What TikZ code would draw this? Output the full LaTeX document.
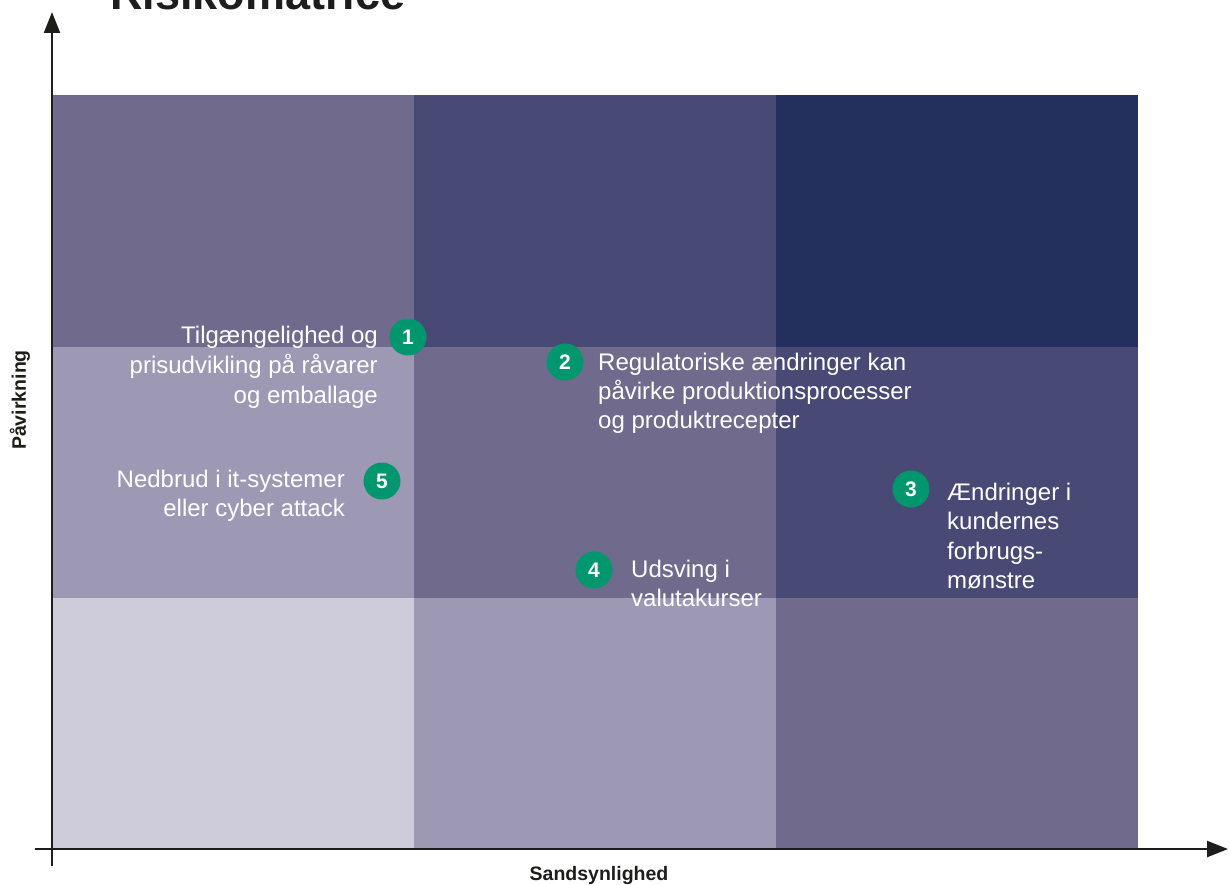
\documentclass[tikz,border=0pt]{standalone}
\usepackage{fontspec}
\setmainfont{Liberation Sans}
\usetikzlibrary{arrows.meta}
\definecolor{cA}{HTML}{CECBDB}
\definecolor{cB}{HTML}{9D98B4}
\definecolor{cC}{HTML}{706A8D}
\definecolor{cD}{HTML}{494975}
\definecolor{cE}{HTML}{232F5C}
\definecolor{mk}{HTML}{00976E}
\definecolor{ax}{HTML}{1D1D1B}
\begin{document}
\begin{tikzpicture}[x=1pt,y=-1pt,
  marker/.style={circle,fill=mk,text=white,minimum size=37pt,inner sep=0pt,font=\fontsize{21}{21}\selectfont\bfseries},
  lblL/.style={anchor=base west,inner sep=0pt,text=white,font=\fontsize{24}{29}\selectfont},
  lblR/.style={anchor=base east,inner sep=0pt,text=white,font=\fontsize{24}{29}\selectfont},
  axislbl/.style={inner sep=0pt,text=ax,font=\fontsize{19.5}{20}\selectfont\bfseries},
  axisline/.style={draw=ax,line width=2.4pt,-{Triangle[length=21pt,width=16pt]}}]
\useasboundingbox (0,0) rectangle (1230,885);
% cells
\fill[cC] (52,95) rectangle (414,347);
\fill[cD] (414,95) rectangle (776,347);
\fill[cE] (776,95) rectangle (1138,347);
\fill[cB] (52,347) rectangle (414,598);
\fill[cC] (414,347) rectangle (776,598);
\fill[cD] (776,347) rectangle (1138,598);
\fill[cA] (52,598) rectangle (414,849);
\fill[cB] (414,598) rectangle (776,849);
\fill[cC] (776,598) rectangle (1138,849);
% title
\node[anchor=base west,inner sep=0pt,text=ax,font=\fontsize{45}{50}\selectfont\bfseries] (title) at (110,10) {Risikomatrice};
% axes
\coordinate (yb) at (52,866);
\coordinate (yt) at (52,12);
\coordinate (xl) at (35,849);
\coordinate (xr) at (1228,849);
\draw[axisline] (yb) -- (yt);
\draw[axisline] (xl) -- (xr);
\node[axislbl,rotate=90] (ylab) at (20,400) {Påvirkning};
\node[axislbl,anchor=base] (xlab) at (599,880) {Sandsynlighed};
% markers
\node[marker] (m1) at (408,337) {1};
\node[marker] (m2) at (565,362) {2};
\node[marker] (m3) at (911,489) {3};
\node[marker] (m4) at (594,570) {4};
\node[marker] (m5) at (382,481) {5};
% labels
\node[lblR] (t1a) at (378,343) {Tilgængelighed og};
\node[lblR] (t1b) at (378,373) {prisudvikling på råvarer};
\node[lblR] (t1c) at (378,403) {og emballage};
\node[lblR] (t5a) at (345,487) {Nedbrud i it-systemer};
\node[lblR] (t5b) at (345,516) {eller cyber attack};
\node[lblL] (t2a) at (598,370) {Regulatoriske ændringer kan};
\node[lblL] (t2b) at (598,399) {påvirke produktionsprocesser};
\node[lblL] (t2c) at (598,428) {og produktrecepter};
\node[lblL] (t3a) at (947,500) {Ændringer i};
\node[lblL] (t3b) at (947,529) {kundernes};
\node[lblL] (t3c) at (947,559) {forbrugs-};
\node[lblL] (t3d) at (947,588) {mønstre};
\node[lblL] (t4a) at (631,577) {Udsving i};
\node[lblL] (t4b) at (631,606) {valutakurser};
\end{tikzpicture}
\end{document}
